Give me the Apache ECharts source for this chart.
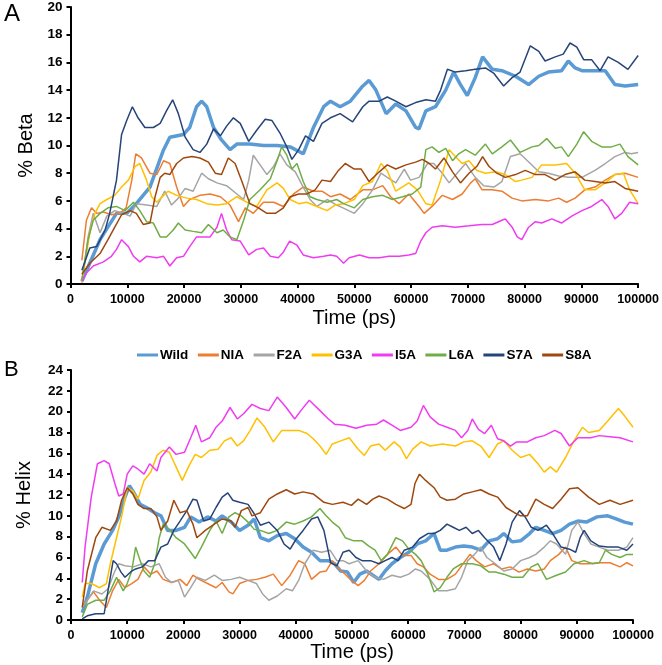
<!DOCTYPE html>
<html>
<head>
<meta charset="utf-8">
<script src="https://cdn.jsdelivr.net/npm/echarts@6/dist/echarts.min.js"></script>
<style>
html,body{margin:0;padding:0;background:#fff;}
#chart{width:662px;height:665px;}
</style>
</head>
<body>
<div id="chart"></div>
<script>
// ---- DATA ----
const seriesNames = ['Wild', 'NIA', 'F2A', 'G3A', 'I5A', 'L6A', 'S7A', 'S8A'];
const xTicks = [0, 10000, 20000, 30000, 40000, 50000, 60000, 70000, 80000, 90000, 100000];
const betaTicks = [0, 2, 4, 6, 8, 10, 12, 14, 16, 18, 20];
const helixTicks = [0, 2, 4, 6, 8, 10, 12, 14, 16, 18, 20, 22, 24];

// Panel A: % Beta, [time (ps), value]
const betaWild = [[2000,0.2],[5200,3.2],[8100,5.1],[9900,5.1],[11600,5.8],[12800,6.4],[14000,7.0],[16300,9.6],[17500,10.6],[19900,10.8],[21000,11.3],[22200,12.8],[23100,13.2],[24000,12.8],[25200,11.3],[26600,10.4],[28100,9.7],[29300,10.1],[31600,10.1],[34000,10.0],[36400,10.0],[38700,9.9],[41000,9.4],[42800,11.3],[44600,12.8],[45800,13.2],[47500,12.8],[49300,13.2],[51500,14.3],[52600,14.7],[53800,14.0],[55600,12.3],[57300,13.0],[59100,12.5],[60800,11.3],[61400,11.2],[62600,12.5],[64300,12.8],[66100,14.0],[67500,15.3],[68700,14.4],[69900,13.6],[71300,14.9],[72600,16.4],[74300,15.5],[76000,15.4],[78400,15.0],[80700,14.4],[82500,15.0],[84200,15.3],[86500,15.4],[87700,16.1],[88900,15.6],[90100,15.4],[92400,15.4],[94200,15.4],[95900,14.4],[97700,14.3],[100000,14.4]];
const betaNIA = [[2000,1.7],[2800,4.6],[3700,5.5],[4600,5.1],[5800,5.2],[7200,5.0],[8700,5.1],[9800,5.5],[10800,7.5],[11500,9.4],[12500,9.1],[14000,8.0],[15200,7.9],[16400,8.9],[17500,8.7],[18700,7.0],[19900,5.6],[21000,6.1],[22800,6.4],[24600,6.5],[26400,6.3],[28100,5.7],[29600,4.5],[30800,5.5],[32200,5.1],[34000,5.9],[35800,5.9],[37500,5.6],[39300,6.5],[41000,7.0],[42800,6.7],[44300,6.7],[45800,6.3],[47500,6.5],[49300,6.1],[51500,6.8],[53200,6.8],[55000,7.1],[56400,6.3],[57900,5.8],[59600,6.5],[61400,5.6],[62300,5.1],[63700,5.6],[65500,6.4],[67300,6.1],[69000,6.5],[70500,7.3],[71300,7.6],[72500,6.8],[74300,6.8],[76000,6.7],[77800,6.2],[79500,6.0],[81900,6.1],[84200,6.0],[86000,6.2],[87400,5.9],[88900,6.2],[90600,6.8],[92400,7.0],[94200,7.5],[95900,7.9],[97700,8.0],[100000,7.7]];
const betaF2A = [[2000,0.1],[3100,3.4],[4000,5.1],[5200,3.7],[6400,4.9],[7800,5.3],[9300,5.1],[10500,4.9],[11600,5.8],[13400,5.7],[15200,5.6],[16600,6.7],[17800,5.7],[19000,6.2],[20200,6.9],[21600,6.7],[23100,8.0],[24300,7.6],[25800,7.3],[27500,7.1],[29300,6.5],[30500,6.1],[31400,7.5],[32200,9.3],[33400,8.6],[34600,7.9],[35800,8.5],[36900,9.4],[38100,8.6],[39600,8.1],[41000,7.0],[42200,6.1],[43400,5.6],[45200,6.1],[46900,5.7],[48000,5.5],[50000,5.1],[51500,5.8],[53200,6.8],[54700,8.0],[55800,7.7],[57300,7.3],[58800,8.3],[59900,7.5],[61400,7.7],[62900,8.7],[64000,8.7],[65500,8.0],[66700,7.3],[68100,8.0],[69600,8.7],[71300,7.7],[72800,7.1],[74600,7.0],[76000,7.4],[77500,9.2],[79200,9.4],[81000,8.7],[82500,8.1],[84200,8.0],[86000,7.8],[87700,7.7],[90100,7.7],[92400,8.2],[94200,8.7],[95900,9.2],[97700,9.5],[98800,9.4],[100000,9.5]];
const betaG3A = [[2000,0.1],[3400,3.7],[4300,5.1],[5200,5.8],[6400,6.1],[7800,6.4],[9000,7.0],[10200,7.5],[11400,8.5],[12200,8.7],[13400,7.5],[14300,6.3],[15200,5.9],[16400,6.4],[17200,6.7],[18700,6.4],[20500,6.2],[22200,6.1],[24000,5.8],[25800,5.7],[27500,5.8],[29300,6.3],[31100,5.9],[32800,5.6],[34600,6.8],[36400,7.3],[37500,6.9],[38700,6.1],[40200,5.8],[41600,5.9],[43400,5.6],[45200,5.3],[46600,5.7],[48100,5.8],[50000,6.1],[51500,7.1],[53200,7.4],[54700,8.7],[55800,8.2],[57300,6.7],[59600,7.3],[61100,6.8],[62600,5.8],[63700,5.7],[65200,7.5],[66700,9.7],[67800,9.2],[69000,8.7],[70200,8.9],[71600,8.2],[73100,8.0],[74900,8.1],[76600,7.9],[78400,7.4],[79500,7.5],[81300,7.7],[83000,8.6],[85400,8.6],[87400,8.7],[88900,8.0],[90600,6.8],[92400,6.8],[94200,7.3],[95900,7.9],[97400,8.0],[98500,6.8],[100000,5.8]];
const betaI5A = [[2000,0.2],[2800,0.8],[4000,1.3],[5800,1.6],[7200,2.0],[8100,2.5],[9000,3.2],[10200,2.7],[11100,2.0],[12200,1.6],[13400,2.0],[15200,1.9],[16400,2.0],[17500,1.3],[18700,1.9],[19900,2.0],[21000,2.7],[22200,3.4],[23400,3.4],[24600,3.4],[25800,4.1],[26600,5.1],[27500,3.9],[28400,3.2],[29900,3.1],[31400,2.1],[32800,2.5],[34000,2.6],[35200,2.0],[36600,1.9],[37500,2.3],[38600,3.1],[39900,2.8],[41000,2.1],[42800,1.9],[44600,2.0],[45800,2.1],[46900,2.0],[48100,1.5],[49100,1.9],[50900,2.1],[52600,1.9],[54400,1.9],[56100,2.0],[57900,2.0],[59600,2.1],[60800,2.2],[61700,3.1],[62600,3.7],[63700,4.1],[65500,4.2],[67800,4.1],[70200,4.2],[72500,4.3],[74300,4.3],[76000,4.6],[76600,4.7],[77800,4.1],[78700,3.4],[79500,3.2],[80700,4.1],[81900,4.5],[83000,4.4],[84800,4.7],[86500,4.4],[88300,4.9],[90100,5.3],[91800,5.6],[93600,6.1],[94700,5.6],[95900,4.7],[97100,5.1],[98500,5.9],[100000,5.8]];
const betaL6A = [[2000,0.3],[3100,3.2],[4000,4.6],[5200,5.1],[6600,5.5],[8100,5.6],[9600,5.3],[11100,5.9],[12200,5.3],[13400,4.5],[14600,4.4],[15800,3.4],[16900,3.4],[18100,3.9],[19000,4.4],[20200,3.9],[21600,3.8],[23100,3.7],[24300,4.3],[25800,3.7],[26900,3.9],[28100,3.4],[29300,3.2],[30500,4.6],[31600,6.1],[33400,6.8],[35200,7.6],[36400,8.9],[37200,9.9],[38100,9.3],[39000,8.3],[39900,8.7],[41000,7.4],[42200,6.3],[43400,6.1],[45200,5.9],[46900,6.1],[48100,5.8],[50000,5.5],[51500,6.1],[53200,6.3],[55000,6.4],[56700,6.1],[58500,6.3],[60200,6.5],[61700,7.0],[62600,9.7],[63700,9.9],[64900,9.5],[66100,9.8],[67300,8.9],[68400,9.4],[69600,9.7],[71300,9.3],[73100,10.1],[74300,9.4],[76000,9.9],[77500,10.4],[79200,9.5],[81300,9.9],[82500,10.0],[83900,10.5],[85400,9.8],[86500,9.9],[87700,9.2],[89200,10.1],[90400,11.0],[91800,10.3],[93600,9.9],[95300,9.9],[96800,10.1],[98200,9.2],[100000,8.6]];
const betaS7A = [[2000,1.0],[3400,2.6],[4600,2.7],[6100,3.9],[6900,5.1],[8100,7.5],[9000,10.8],[9900,11.8],[10900,12.8],[11900,12.0],[13100,11.3],[14600,11.3],[15800,11.6],[16900,12.5],[18000,13.3],[19000,12.3],[20200,10.6],[21600,9.7],[22800,9.5],[24000,10.1],[25200,11.2],[26400,10.7],[27500,11.4],[28700,12.0],[29900,11.6],[31400,10.3],[32800,11.1],[34300,11.9],[35500,11.8],[36900,10.9],[38100,9.9],[39000,9.0],[40200,9.7],[41400,10.7],[42800,10.3],[44300,11.6],[45800,12.0],[47500,12.3],[49700,11.7],[51500,12.8],[52600,13.2],[54400,13.2],[55800,13.5],[57300,13.2],[59100,12.8],[60800,13.1],[62600,13.3],[64300,13.2],[65200,14.0],[66400,15.5],[67800,15.3],[69600,15.4],[71300,15.5],[73100,15.6],[74600,15.2],[76300,14.3],[77800,14.9],[79200,15.3],[81000,17.2],[82500,16.8],[83600,16.1],[85400,16.4],[86800,16.6],[88000,17.4],[89200,17.1],[90400,16.2],[91800,16.2],[93300,15.4],[94700,16.4],[96500,16.0],[98200,15.5],[100000,16.5]];
const betaS8A = [[2000,0.7],[3400,1.5],[5200,2.2],[6600,3.2],[7800,4.1],[9000,5.0],[10500,5.3],[11600,5.1],[12800,4.3],[14000,4.4],[14900,6.3],[15800,7.7],[16600,8.0],[17500,7.9],[18700,8.7],[19900,9.1],[21400,9.2],[22800,9.1],[24300,8.8],[25500,8.0],[26600,7.9],[27800,9.1],[29000,8.7],[30200,7.4],[31600,5.8],[33100,5.5],[34600,5.1],[36100,5.1],[37500,5.5],[38700,6.3],[40200,6.5],[41600,6.5],[43100,6.8],[44300,7.5],[45800,7.4],[47200,8.2],[48400,8.7],[50000,8.3],[51200,8.3],[52600,7.4],[54400,8.1],[55800,8.6],[57300,8.3],[59100,8.6],[60800,8.8],[62000,9.0],[63200,8.7],[64300,8.3],[65800,9.1],[67300,8.1],[68700,7.3],[70200,8.0],[71600,8.5],[72600,9.2],[73700,8.5],[75100,8.0],[76600,7.7],[78400,7.9],[80100,8.2],[81900,7.9],[83600,7.9],[85400,7.5],[87100,7.9],[88900,8.1],[90600,7.5],[92400,7.4],[94200,7.3],[95900,7.4],[97700,6.9],[100000,6.7]];

// Panel B: % Helix, [time (ps), value]
const helixWild = [[2000,0.7],[2900,2.2],[4400,5.4],[5900,7.3],[7400,8.6],[8500,9.9],[9600,11.8],[10400,12.9],[11100,12.3],[12300,11.1],[13400,10.8],[14900,10.3],[16000,10.0],[17200,8.6],[18700,8.6],[20200,8.9],[21300,9.9],[22800,9.4],[24300,9.9],[25800,9.5],[26900,10.0],[28500,9.4],[30000,8.6],[31500,9.1],[32600,9.7],[33700,7.9],[35200,7.6],[36700,8.1],[38300,8.3],[39800,7.8],[41300,7.0],[42800,6.5],[44300,5.7],[45800,5.7],[46900,5.4],[48000,4.7],[49200,4.6],[50300,3.6],[51400,4.4],[52600,4.7],[53700,4.3],[54800,3.9],[55900,4.7],[57100,5.4],[58600,6.0],[60100,6.5],[61600,7.3],[63100,7.6],[64600,8.3],[65700,6.7],[66900,6.7],[68400,7.0],[69900,7.1],[71400,7.0],[72900,6.7],[74400,7.6],[75900,7.8],[77000,8.3],[78500,7.5],[80000,7.6],[81600,8.3],[82700,8.9],[84200,8.6],[85700,8.3],[87200,8.6],[88700,9.2],[90200,9.5],[91700,9.4],[93600,9.9],[95500,10.0],[97000,9.7],[98500,9.4],[100000,9.2]];
const helixNIA = [[2000,1.4],[2900,1.9],[4000,2.7],[5100,1.9],[6300,1.2],[7400,2.8],[8500,3.9],[9600,3.1],[10800,3.5],[11900,3.9],[13000,5.1],[14200,4.4],[15300,4.7],[16400,3.9],[17900,3.6],[19400,3.9],[20600,3.3],[21700,4.3],[22800,3.9],[24300,3.5],[25800,3.1],[26900,3.6],[28100,2.7],[28800,2.5],[30000,3.5],[31500,3.8],[33000,3.9],[34500,4.1],[36000,4.4],[37500,3.3],[39000,4.3],[40500,5.7],[41600,5.4],[42800,3.9],[44300,4.6],[45400,4.7],[46500,5.7],[47700,4.9],[48800,4.4],[49900,3.8],[51100,3.3],[52200,3.8],[53300,4.7],[54800,5.4],[56300,6.3],[57800,7.0],[59000,6.2],[60500,6.2],[61600,5.4],[62700,5.1],[63900,4.4],[65400,3.9],[66900,3.9],[68400,4.4],[69900,5.5],[71000,6.3],[72100,5.7],[73600,5.1],[75200,5.4],[76600,4.9],[78200,5.1],[79700,4.6],[81200,4.9],[82700,4.7],[84200,4.9],[85300,5.7],[86800,6.3],[88000,7.0],[89100,5.7],[90600,5.4],[92100,5.4],[94000,5.5],[95900,5.5],[97700,5.1],[98900,5.5],[100000,5.2]];
const helixF2A = [[2000,1.2],[2900,1.9],[4000,2.8],[5500,2.5],[6600,3.0],[7800,4.7],[8500,5.4],[9600,5.2],[11100,5.1],[12700,5.4],[14200,5.1],[15700,5.4],[16800,4.1],[17900,3.6],[19100,3.8],[20200,2.2],[21300,3.1],[22400,4.1],[23900,3.8],[25500,4.3],[26900,3.8],[28500,3.9],[30000,4.1],[31500,3.8],[33000,3.5],[34100,2.5],[35200,1.9],[36700,2.3],[38300,3.0],[39400,2.8],[40500,3.8],[41600,5.4],[43100,6.7],[44600,6.5],[46100,6.7],[47300,5.7],[48400,5.7],[49500,5.4],[51100,5.7],[52600,4.7],[54100,4.1],[55600,3.9],[57100,4.3],[58600,4.1],[60100,4.4],[61300,4.9],[62300,4.7],[63900,3.9],[65400,2.8],[66900,2.8],[68400,3.0],[69500,4.1],[70600,5.7],[71800,6.3],[72900,7.0],[74000,6.0],[75500,5.4],[77000,4.7],[78500,4.9],[80000,5.7],[81600,6.0],[82700,6.3],[84200,7.0],[85300,7.6],[86400,7.3],[88000,6.3],[89100,8.6],[90200,9.4],[91300,8.3],[92500,7.3],[94000,7.0],[95500,6.7],[97400,6.7],[98900,7.0],[100000,7.9]];
const helixG3A = [[2000,2.2],[2500,3.5],[3600,3.5],[5100,3.1],[6300,3.5],[7000,5.4],[8100,7.9],[9000,9.9],[10000,12.7],[11000,12.4],[11900,11.6],[13000,13.4],[14200,14.2],[15300,15.8],[16400,16.3],[17500,16.1],[18700,14.7],[19800,13.4],[20900,14.7],[22100,15.9],[23200,15.6],[24700,16.3],[26200,16.4],[27300,17.2],[28500,17.5],[29600,16.7],[30700,17.2],[31900,18.2],[33100,19.4],[34500,18.5],[36000,17.1],[37500,18.2],[39000,18.2],[40500,18.2],[42000,17.9],[43100,17.4],[44300,16.7],[45400,15.9],[46500,16.9],[48000,17.2],[49500,17.5],[51100,16.4],[52200,15.8],[53300,16.7],[54800,16.9],[55900,16.3],[57500,17.1],[58600,16.6],[59700,15.5],[60800,16.4],[62300,17.1],[63900,16.7],[66100,16.9],[68400,16.7],[69900,17.1],[71400,17.2],[72900,16.7],[74400,15.6],[75900,16.9],[77000,17.2],[78500,16.3],[80000,15.6],[81600,15.9],[83100,15.0],[84200,14.2],[85300,14.7],[86400,14.2],[88000,15.6],[89500,17.2],[91000,18.5],[92100,18.0],[94000,18.2],[95500,19.1],[97400,20.3],[98500,19.6],[100000,18.5]];
const helixI5A = [[2000,3.6],[2500,7.0],[3600,11.8],[4700,15.0],[5900,15.3],[6800,15.0],[7800,13.1],[8500,11.9],[9300,12.1],[10000,14.0],[11000,14.8],[11900,14.5],[13000,14.0],[14000,15.0],[15300,14.3],[16000,15.6],[17500,16.6],[18700,15.9],[20200,16.1],[21300,17.5],[22200,18.7],[23200,17.1],[24700,17.5],[25800,18.5],[26900,19.1],[28300,20.4],[29600,19.3],[30700,19.8],[32200,20.7],[33700,20.3],[35200,20.1],[36700,21.4],[38300,20.4],[39800,19.3],[40900,20.1],[42400,21.1],[44300,20.1],[45800,19.3],[46900,18.8],[48800,18.7],[50700,18.4],[52600,18.7],[54400,18.8],[55600,19.2],[57100,18.7],[58600,18.2],[60500,18.5],[61600,19.1],[62700,20.6],[63900,19.5],[65400,18.8],[66900,18.5],[68400,18.2],[69500,17.5],[70600,18.2],[71400,19.3],[72500,18.3],[73600,17.9],[74800,18.7],[75900,17.4],[77000,17.2],[78200,16.7],[79300,17.1],[81200,17.1],[82700,17.5],[84200,17.7],[86100,18.2],[87200,17.9],[88700,16.7],[90200,17.5],[92500,17.5],[94000,17.7],[95900,17.6],[97700,17.5],[100000,17.1]];
const helixL6A = [[2000,0.3],[2900,1.5],[4400,1.9],[5900,1.9],[7000,2.8],[8100,4.1],[9300,2.8],[10000,3.5],[10800,4.7],[11500,7.0],[12300,5.7],[13000,4.7],[14000,4.1],[14900,5.4],[15700,7.9],[16400,9.2],[17500,8.7],[18700,7.9],[20200,7.3],[21300,6.5],[22100,5.9],[23200,7.0],[24700,8.6],[25800,9.5],[26900,8.3],[28100,9.9],[29200,10.3],[30300,10.0],[31500,9.4],[32600,8.7],[33700,8.6],[35200,8.3],[36700,8.6],[38300,9.4],[39800,9.2],[41300,9.5],[42800,9.9],[44300,10.7],[45400,10.0],[46500,9.4],[47700,8.9],[48800,7.9],[50300,7.6],[51800,7.6],[53000,7.1],[54100,6.7],[55200,5.7],[56300,6.3],[57800,7.9],[59000,7.6],[60100,6.8],[61300,6.3],[62300,5.7],[63500,4.4],[64600,2.7],[65700,3.1],[66900,4.1],[68000,4.9],[69500,5.4],[71400,5.4],[72900,5.2],[74400,4.6],[75500,4.6],[77000,4.4],[78500,4.1],[80400,4.1],[81900,5.1],[83100,5.4],[84600,3.9],[86400,4.3],[88000,4.6],[89500,5.4],[91300,5.7],[92800,5.4],[94000,5.5],[95100,6.7],[96200,6.3],[97700,6.0],[98900,6.3],[100000,6.3]];
const helixS7A = [[2000,0.1],[2900,0.4],[4400,0.6],[5900,0.6],[6800,3.5],[7500,5.7],[8100,5.4],[8900,4.6],[9600,4.1],[10800,4.7],[11500,4.9],[12700,5.1],[13800,5.7],[14900,5.7],[16000,7.0],[17200,7.3],[18300,8.6],[19400,9.5],[20600,10.5],[21700,11.6],[22400,11.5],[23600,9.5],[24700,9.7],[25800,10.8],[26900,11.8],[27900,12.2],[28800,11.5],[30000,11.3],[31500,11.1],[32600,10.2],[33700,9.1],[35200,9.4],[36700,8.6],[37900,7.3],[39000,6.8],[40100,7.8],[41300,8.6],[42800,9.7],[43900,9.9],[45000,8.6],[46200,5.5],[47300,5.2],[48400,6.5],[49500,6.7],[50700,6.0],[51800,5.7],[53300,5.7],[54800,5.4],[55900,5.7],[57100,6.0],[58200,5.7],[59300,6.7],[60800,7.0],[62000,7.8],[63500,8.3],[64600,8.3],[65700,8.6],[66900,9.2],[68000,8.9],[69100,8.6],[70300,8.9],[71400,8.3],[72500,8.6],[73600,7.9],[75200,7.0],[76300,5.7],[77400,7.3],[78500,9.4],[79800,10.5],[80800,9.9],[81900,8.9],[83100,8.6],[84600,9.1],[85700,8.3],[87200,7.0],[88700,6.8],[89800,6.5],[90600,7.9],[91300,8.6],[92500,7.6],[94000,7.1],[95500,7.0],[97400,7.0],[98900,6.7],[100000,7.3]];
const helixS8A = [[2000,1.2],[2900,4.7],[4400,7.9],[5500,8.9],[7000,8.6],[8100,9.5],[9000,11.5],[10000,12.7],[11000,12.1],[11900,11.1],[13000,10.7],[14200,10.7],[15300,9.9],[16000,8.6],[17200,9.5],[18300,11.5],[19400,10.3],[20600,10.5],[21700,9.2],[22400,7.9],[23900,8.6],[25500,9.2],[26900,9.7],[28500,9.5],[29200,8.9],[30300,10.5],[31500,10.8],[32200,10.0],[33700,10.3],[35200,11.6],[36700,12.1],[38300,12.5],[39800,12.1],[41300,12.3],[43100,12.1],[45000,11.3],[46500,11.1],[48400,11.3],[49900,11.0],[51100,11.6],[52600,11.1],[53700,11.6],[54800,11.9],[56300,11.6],[57800,11.1],[59300,10.7],[60500,11.1],[61200,13.1],[62000,14.0],[63100,13.4],[64600,12.7],[65700,11.8],[66900,11.5],[68400,11.6],[69900,12.1],[71400,12.3],[72900,12.5],[74400,12.1],[75900,11.8],[77400,10.8],[78900,10.3],[80000,10.0],[81200,10.0],[82700,11.6],[84200,11.1],[85700,10.7],[87200,11.6],[88700,12.6],[90200,12.7],[92100,11.8],[94000,11.1],[95900,11.5],[97700,11.1],[100000,11.5]];

// ---- STYLE ----
const colors = ['#5B9BD5', '#ED7D31', '#A5A5A5', '#FFC000', '#F03CF0', '#70AD47', '#264478', '#9E480E'];
const widths = [3.5, 1.5, 1.5, 1.5, 1.5, 1.5, 1.5, 1.5];
const FONT = '"Liberation Sans", Arial, Helvetica, sans-serif';

const betaData = [betaWild, betaNIA, betaF2A, betaG3A, betaI5A, betaL6A, betaS7A, betaS8A];
const helixData = [helixWild, helixNIA, helixF2A, helixG3A, helixI5A, helixL6A, helixS7A, helixS8A];

function xAxis(gridIndex, gap) {
  return {
    type: 'value', gridIndex: gridIndex, min: xTicks[0], max: xTicks[xTicks.length - 1], interval: xTicks[1] - xTicks[0],
    name: 'Time (ps)', nameLocation: 'middle', nameGap: gap,
    nameTextStyle: { fontFamily: FONT, fontSize: 20, color: '#000' },
    axisLine: { lineStyle: { color: '#000', width: 2 } },
    axisTick: { show: true, length: 4, lineStyle: { color: '#000', width: 2 } },
    axisLabel: { fontFamily: FONT, fontSize: 12.5, fontWeight: 'bold', color: '#000', margin: 9,
      formatter: function (v) { return String(v); } },
    splitLine: { show: false }
  };
}
function yAxis(gridIndex, ticks, name, gap) {
  return {
    type: 'value', gridIndex: gridIndex, min: ticks[0], max: ticks[ticks.length - 1], interval: ticks[1] - ticks[0],
    name: name, nameLocation: 'middle', nameGap: gap, nameRotate: 90,
    nameTextStyle: { fontFamily: FONT, fontSize: 20, color: '#000' },
    axisLine: { show: true, lineStyle: { color: '#000', width: 2 } },
    axisTick: { show: true, length: 4, lineStyle: { color: '#000', width: 2 } },
    axisLabel: { fontFamily: FONT, fontSize: 13.5, fontWeight: 'bold', color: '#000', margin: 8,
      formatter: function (v) { return String(v); } },
    splitLine: { show: false }
  };
}

const series = [];
seriesNames.forEach(function (n, i) {
  series.push({
    name: n, type: 'line', xAxisIndex: 0, yAxisIndex: 0, data: betaData[i],
    showSymbol: false, symbol: 'none', smooth: false, animation: false,
    lineStyle: { color: colors[i], width: widths[i] }, itemStyle: { color: colors[i] }
  });
});
seriesNames.forEach(function (n, i) {
  series.push({
    name: n, type: 'line', xAxisIndex: 1, yAxisIndex: 1, data: helixData[i],
    showSymbol: false, symbol: 'none', smooth: false, animation: false,
    lineStyle: { color: colors[i], width: widths[i] }, itemStyle: { color: colors[i] }
  });
});

const chart = echarts.init(document.getElementById('chart'), null, { renderer: 'canvas' });
chart.setOption({
  backgroundColor: '#fff',
  animation: false,
  grid: [
    { left: 70.5, right: 22, top: 6, height: 278 },
    { left: 71, right: 29, top: 370, height: 250 }
  ],
  xAxis: [xAxis(0, 24), xAxis(1, 20)],
  yAxis: [yAxis(0, betaTicks, '% Beta', 31), yAxis(1, helixTicks, '% Helix', 37)],
  legend: {
    data: seriesNames.map(function (n, i) {
      return { name: n, icon: 'rect', itemStyle: { color: colors[i] } };
    }),
    left: 132, top: 343, itemWidth: 21, itemHeight: 3, itemGap: 9.5,
    textStyle: { fontFamily: FONT, fontSize: 13.5, fontWeight: 'bold', color: '#000', padding: [0, 0, 0, -3] }
  },
  graphic: [
    { type: 'text', left: 4, top: 2, style: { text: 'A', font: '24px ' + FONT, fill: '#000' } },
    { type: 'text', left: 4, top: 359, style: { text: 'B', font: '22px ' + FONT, fill: '#000' } }
  ],
  series: series
});
</script>
</body>
</html>
